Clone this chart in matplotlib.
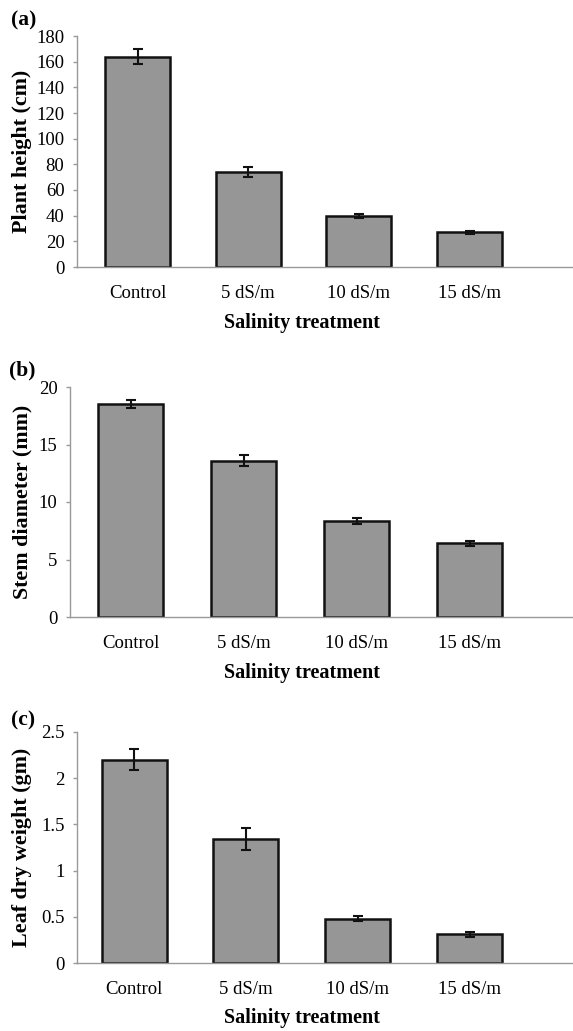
import numpy as np
import matplotlib.pyplot as plt

plt.rcParams['font.family'] = ['Liberation Serif', 'DejaVu Serif']

W, H = 573, 1031

treatments = ['Control', '5 dS/m', '10 dS/m', '15 dS/m']

plant_height = [164, 74, 40, 27]
plant_height_err = [6, 4, 1.5, 1]

stem_diameter = [18.5, 13.6, 8.35, 6.4]
stem_diameter_err = [0.35, 0.45, 0.25, 0.2]

leaf_weight = [2.2, 1.34, 0.48, 0.31]
leaf_weight_err = [0.115, 0.12, 0.025, 0.03]

# (label, values, errors, ylabel, ymax, yticks,
#  axes left/top/bottom px, first/last category px, panel-label pos, xlabel y)
panels = [
    ('(a)', plant_height, plant_height_err, 'Plant height (cm)', 180,
     [0, 20, 40, 60, 80, 100, 120, 140, 160, 180], (77, 36, 267), (137.5, 469.5),
     (11, 10), 323),
    ('(b)', stem_diameter, stem_diameter_err, 'Stem diameter (mm)', 20,
     [0, 5, 10, 15, 20], (70, 387, 617), (130.5, 469.5), (9, 360), 673),
    ('(c)', leaf_weight, leaf_weight_err, 'Leaf dry weight (gm)', 2.5,
     [0, 0.5, 1, 1.5, 2, 2.5], (77, 732, 963), (134, 469.5), (11, 710), 1018),
]

fig = plt.figure(figsize=(W / 100, H / 100), dpi=100)

for label, vals, errs, ylabel, ymax, yticks, box, cats, lpos, xly in panels:
    left, top, bottom = box
    ax = fig.add_axes([left / W, 1 - bottom / H, 1 - left / W, (bottom - top) / H])
    x = np.arange(len(treatments))
    step = (cats[1] - cats[0]) / 3
    ax.bar(x, vals, width=65 / step, color='#969696', edgecolor='#111111',
           linewidth=1.8, zorder=2)
    ax.errorbar(x, vals, yerr=errs, fmt='none', ecolor='#111111', elinewidth=1.5,
                capsize=3.8, capthick=1.5, zorder=3)
    ax.set_xlim(-(cats[0] - left) / step, 3 + (W - cats[1]) / step)
    ax.set_ylim(0, ymax)
    ax.set_yticks(yticks)
    ax.set_yticklabels([('%g' % t) for t in yticks], fontsize=13.5)
    ax.set_xticks(x)
    ax.set_xticklabels(treatments, fontsize=13.5)
    ax.tick_params(axis='x', length=0, pad=13)
    ax.tick_params(axis='y', length=3, color='#999999', width=1, pad=6)
    for s in ['top', 'right']:
        ax.spines[s].set_visible(False)
    for s in ['left', 'bottom']:
        ax.spines[s].set_color('#999999')
        ax.spines[s].set_linewidth(1)
    fig.text(22 / W, 1 - (top + bottom) / 2 / H, ylabel, rotation=90, fontsize=15.8,
             fontweight='bold', ha='center', va='center')
    fig.text(302 / W, 1 - xly / H, 'Salinity treatment', fontsize=14.5,
             fontweight='bold', ha='center', va='center')
    fig.text(lpos[0] / W, 1 - lpos[1] / H, label, fontsize=15.5,
             fontweight='bold', ha='left', va='top')

fig.savefig('out.png', dpi=100)
